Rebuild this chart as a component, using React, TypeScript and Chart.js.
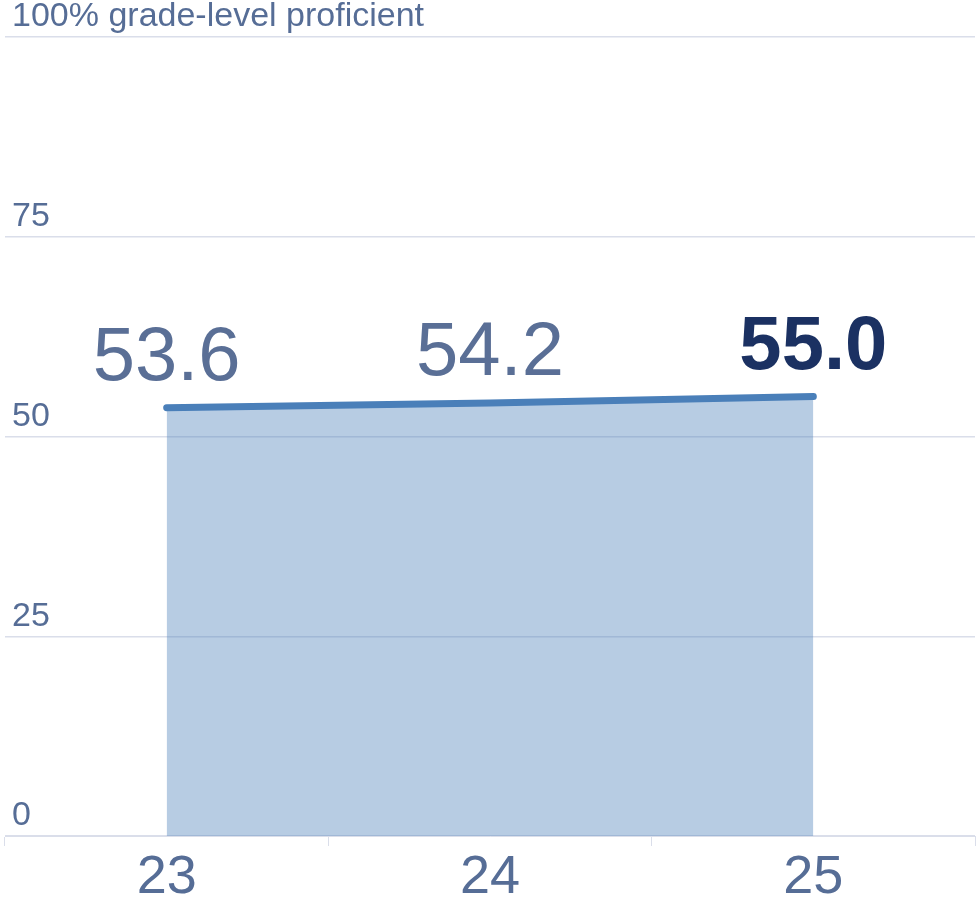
import React, { useEffect, useRef } from "react";
import { Chart, registerables } from "chart.js";

Chart.register(...registerables);

const categories = ["23", "24", "25"];
const values = [53.6, 54.2, 55.0];
const valueLabels = ["53.6", "54.2", "55.0"];
const yTicks = [0, 25, 50, 75, 100];
const topTickLabel = "100% grade-level proficient";

const FONT = "'Liberation Sans', Arial, Helvetica, sans-serif";
const TEXT = "#566d96";
const GRID = "#dadeea";

const valueLabelPlugin = {
  id: "valueLabels",
  afterDatasetsDraw(chart: any) {
    const meta = chart.getDatasetMeta(0);
    const ctx = chart.ctx;
    ctx.save();
    ctx.textAlign = "center";
    ctx.textBaseline = "alphabetic";
    meta.data.forEach((pt: any, i: number) => {
      const last = i === meta.data.length - 1;
      ctx.font = `${last ? "bold " : ""}76px ${FONT}`;
      ctx.fillStyle = last ? "#1b3162" : "#5a6f96";
      ctx.fillText(valueLabels[i], pt.x, pt.y - 28);
    });
    ctx.restore();
  },
};

export default function App() {
  const ref = useRef<HTMLCanvasElement | null>(null);
  useEffect(() => {
    document.body.style.margin = "0";
    if (!ref.current) return;
    const chart = new Chart(ref.current, {
      type: "line",
      data: {
        labels: categories,
        datasets: [
          {
            data: values,
            borderColor: "#4a7fb9",
            borderWidth: 7,
            borderCapStyle: "round",
            backgroundColor: "rgba(74,127,185,0.4)",
            fill: "origin",
            pointRadius: 0,
            tension: 0,
          },
        ],
      },
      options: {
        animation: false,
        responsive: false,
        maintainAspectRatio: false,
        layout: { padding: { top: 37, left: 5, right: 2, bottom: -10 } },
        plugins: { legend: { display: false }, tooltip: { enabled: false } },
        scales: {
          x: {
            offset: true,
            grid: {
              display: true,
              offset: true,
              drawOnChartArea: false,
              drawTicks: true,
              tickLength: 10,
              color: GRID,
            },
            border: { display: true, color: GRID },
            ticks: {
              color: TEXT,
              font: { family: FONT, size: 54, lineHeight: 1 },
              padding: 5,
              maxRotation: 0,
            },
          },
          y: {
            min: 0,
            max: 100,
            afterBuildTicks: (scale: any) => {
              scale.ticks = yTicks.map((v) => ({ value: v }));
            },
            afterFit: (scale: any) => {
              scale.width = 0;
            },
            grid: { color: GRID, drawTicks: false, lineWidth: 1.5 },
            border: { display: false },
            ticks: {
              mirror: true,
              padding: 7,
              labelOffset: -20,
              color: TEXT,
              font: { family: FONT, size: 34 },
              callback: (v: any) => (Number(v) === 100 ? topTickLabel : String(v)),
            },
          },
        },
      },
      plugins: [valueLabelPlugin],
    });
    return () => chart.destroy();
  }, []);
  return (
    <div style={{ width: 977, height: 900 }}>
      <canvas ref={ref} width={977} height={900} style={{ display: "block" }} />
    </div>
  );
}
